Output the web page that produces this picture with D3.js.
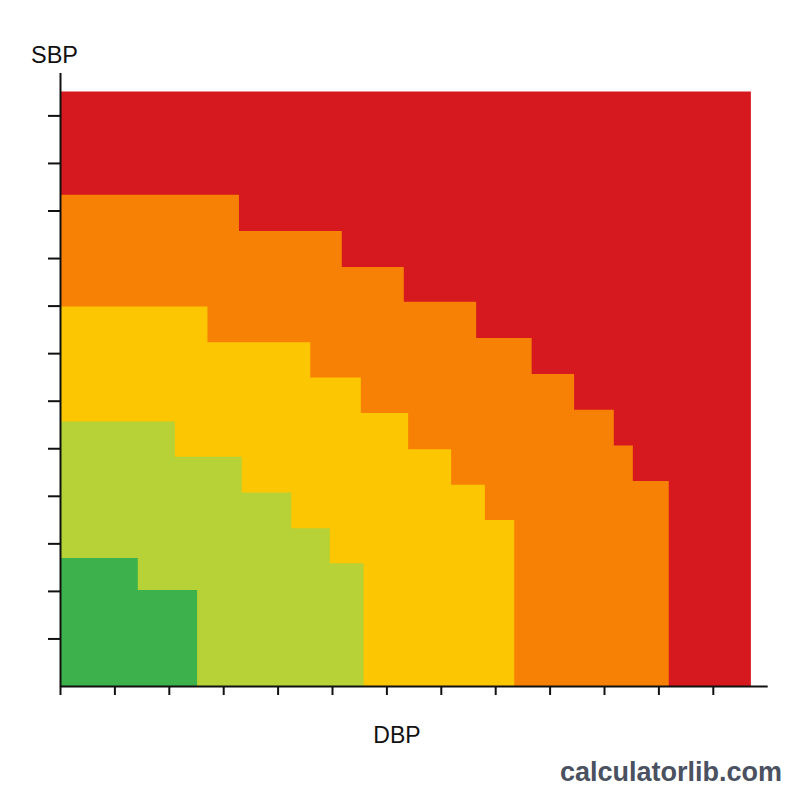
<!DOCTYPE html>
<html>
<head>
<meta charset="utf-8">
<script src="https://cdn.jsdelivr.net/npm/d3@7"></script>
<style>
body { margin: 0; background: #fff; }
svg { display: block; }
</style>
</head>
<body>
<svg id="chart" width="800" height="800"></svg>
<script>
// zone names, bottom to top of the stack (drawn last = on top)
var zoneNames = ["Hypertensive crisis", "Stage 2", "Stage 1", "Elevated", "Normal"]
var zoneColors = ["#d5191f", "#f78104", "#fdc603", "#b6d236", "#3db14b"]

// each zone is a staircase: [right edge DBP, top SBP] per step
var crisisSteps = [[167, 185]]
var stage2Steps = [[72.9, 163.3], [91.8, 155.7], [103.2, 148.1], [116.5, 140.8], [126.7, 133.2],
    [134.5, 125.6], [141.8, 118.1], [145.3, 110.6], [151.9, 103.1]]
var stage1Steps = [[67.1, 139.8], [86.0, 132.3], [95.3, 124.9], [104.0, 117.4], [111.9, 109.8],
    [118.1, 102.3], [123.5, 94.9]]
var elevatedSteps = [[61.1, 115.6], [73.4, 108.2], [82.5, 100.7], [89.6, 93.2], [95.8, 85.8]]
var normalSteps = [[54.3, 86.9], [65.2, 80.2]]

var zoneSteps = [crisisSteps, stage2Steps, stage1Steps, elevatedSteps, normalSteps]

var dbpTicks = d3.range(40, 161, 10)
var sbpTicks = d3.range(70, 181, 10)

var svg = d3.select("#chart")

var x = d3.scaleLinear().domain([40, 170]).range([60, 767.2])
var y = d3.scaleLinear().domain([60, 189]).range([686, 72.6])

function stairPath(steps) {
    var pts = [[40, 60]]
    var left = 40
    steps.forEach(function(s) {
        pts.push([left, s[1]])
        pts.push([s[0], s[1]])
        left = s[0]
    })
    pts.push([left, 60])
    return "M" + pts.map(function(p) {
        return x(p[0]) + "," + y(p[1])
    }).join("L") + "Z"
}

svg.append("g")
    .selectAll("path")
    .data(zoneSteps)
    .enter()
    .append("path")
    .attr("d", stairPath)
    .attr("fill", function(d, i) { return zoneColors[i] })
    .append("title")
    .text(function(d, i) { return zoneNames[i] })

var xAxis = svg.append("g")
    .attr("transform", "translate(0," + y(60) + ")")
    .call(d3.axisBottom(x).tickValues(dbpTicks).tickSize(9).tickSizeOuter(0).tickFormat(""))

var yAxis = svg.append("g")
    .attr("transform", "translate(" + x(40) + ",0)")
    .call(d3.axisLeft(y).tickValues(sbpTicks).tickSize(12).tickSizeOuter(0).tickFormat(""))

svg.selectAll(".domain, .tick line")
    .attr("stroke", "#111")
    .attr("stroke-width", 2)

svg.append("text")
    .attr("x", 31)
    .attr("y", 63)
    .style("font-family", "Liberation Sans, Arial, sans-serif")
    .style("font-size", "23.5px")
    .attr("fill", "#111")
    .text("SBP")

svg.append("text")
    .attr("x", 397)
    .attr("y", 743)
    .attr("text-anchor", "middle")
    .style("font-family", "Liberation Sans, Arial, sans-serif")
    .style("font-size", "23px")
    .attr("fill", "#111")
    .text("DBP")

svg.append("text")
    .attr("x", 782)
    .attr("y", 781)
    .attr("text-anchor", "end")
    .style("font-family", "Liberation Sans, Arial, sans-serif")
    .style("font-size", "27px")
    .style("font-weight", "bold")
    .attr("fill", "#4a5160")
    .text("calculatorlib.com")
</script>
</body>
</html>
